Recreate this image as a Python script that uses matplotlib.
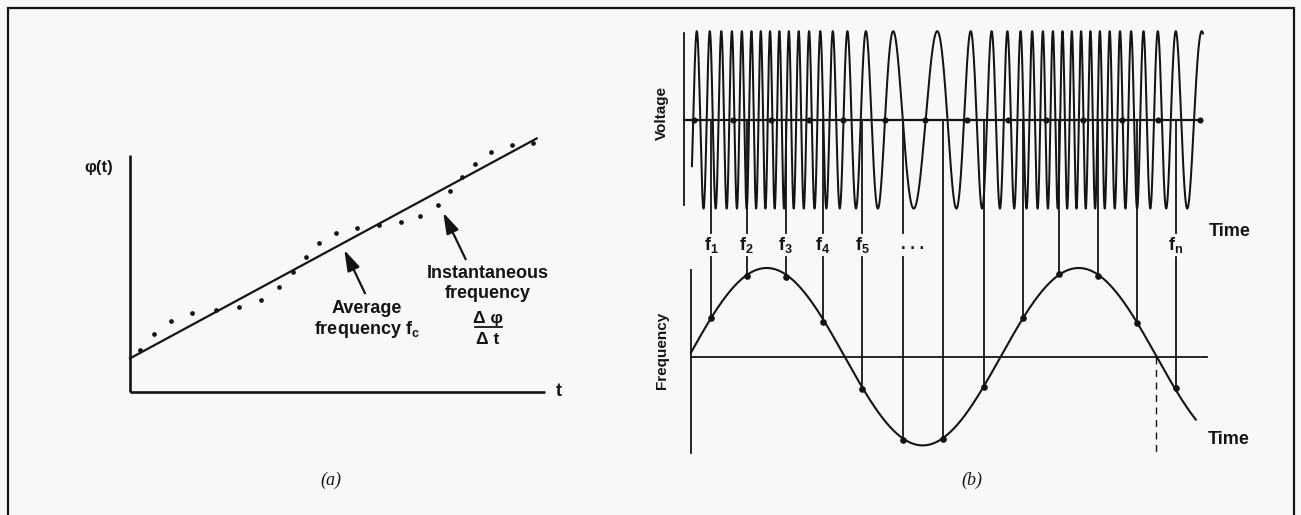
import numpy as np
import matplotlib
matplotlib.use("Agg")
import matplotlib.pyplot as plt
from matplotlib.patches import Rectangle

plt.rcParams['font.family'] = ['Liberation Sans', 'DejaVu Sans']
plt.rcParams['mathtext.fontset'] = 'custom'
plt.rcParams['mathtext.rm'] = 'Liberation Sans:bold'
plt.rcParams['mathtext.it'] = 'Liberation Sans:bold'
plt.rcParams['mathtext.bf'] = 'Liberation Sans:bold'

INK = '#141414'
BG = '#f8f8f7'

# ---------------- Panel (a): phase phi(t) versus time ----------------
phase_t = [0.24, 0.58, 0.99, 1.50, 2.07, 2.63, 3.15, 3.59, 3.92, 4.24, 4.56, 4.96,
           5.48, 6.01, 6.53, 6.99, 7.41, 7.71, 7.99, 8.31, 8.69, 9.21, 9.72]
phase_phi = [1.01, 1.40, 1.72, 1.91, 1.98, 2.06, 2.21, 2.52, 2.89, 3.26, 3.58, 3.82,
             3.96, 4.02, 4.10, 4.23, 4.50, 4.84, 5.17, 5.50, 5.78, 5.94, 6.01]
avg_t = [0.0, 9.80]
avg_phi = [0.81, 6.11]
axis_t_max = 10.0
axis_phi_max = 5.71

# ---------------- Panel (b): FM voltage and instantaneous frequency ----------------
carrier_freq = 20.1      # carrier cycles per modulation period
freq_deviation = 13.6    # peak deviation, cycles per modulation period
mod_offset = -0.0074     # start of modulation sine (periods)
crossing_anchor = 0.6218 # an upward zero crossing of the voltage
volt_level = 2.67        # voltage trace baseline (drawing units)
volt_start, volt_end = 0.003, 1.641
freq_end = 1.618
sample_t = [0.064, 0.1785, 0.303, 0.4224, 0.5487, 0.6779, 0.8067, 0.9391,
            1.0641, 1.1801, 1.3048, 1.4282, 1.5529]
sample_f = [0.433, 0.913, 0.902, 0.395, -0.368, -0.939, -0.931, -0.338,
            0.440, 0.929, 0.913, 0.377, -0.356]
sample_labels = [r'f$_\mathrm{1}$', r'f$_\mathrm{2}$', r'f$_\mathrm{3}$', r'f$_\mathrm{4}$',
                 r'f$_\mathrm{5}$', '. . .', '', '', '', '', '', '', r'f$_\mathrm{n}$']
volt_dot_t = [0.0096, 0.1346, 0.2564, 0.3782, 0.4872, 0.6218, 0.75, 0.8846,
              1.016, 1.1378, 1.2564, 1.3814, 1.4968, 1.6314]
reset_t = 1.4904

W, H = 1301, 515
fig = plt.figure(figsize=(W / 100, H / 100), dpi=100)
fig.patch.set_facecolor(BG)

# outer frame (open at the bottom, as in the scanned page)
fig.patches.append(Rectangle((8 / W, -0.05), (1294 - 8) / W, (H - 8) / H + 0.05,
                             transform=fig.transFigure, fill=False, lw=1.6,
                             edgecolor=INK))

# ---- panel (a) axes: t units 41.5 px, phi units 41.5 px ----
axa = fig.add_axes([0, 0, 1, 1])
axa.set_xlim((0 - 130) / 41.5, (W - 130) / 41.5)
axa.set_ylim((392 - H) / 41.5, 392 / 41.5)
axa.axis('off')
axa.patch.set_alpha(0)

axa.plot([0, 0], [0, axis_phi_max], color=INK, lw=1.9, solid_capstyle='butt')
axa.plot([0, axis_t_max], [0, 0], color=INK, lw=1.9, solid_capstyle='butt')
axa.plot(avg_t, avg_phi, color=INK, lw=1.6)
axa.plot(phase_t, phase_phi, 'o', color=INK, ms=3.4, mec='none')

bold = dict(fontweight='bold', color=INK)
axa.text(-0.75, 5.40, 'φ(t)', fontsize=12, ha='center', va='center', **bold)
axa.text(10.34, 0.0, 't', fontsize=13, ha='center', va='center', **bold)
axa.text(5.70, 2.02, 'Average', fontsize=13, ha='center', va='center', **bold)
axa.text(5.70, 1.51, r'frequency f$_\mathrm{c}$', fontsize=13, ha='center',
         va='center', **bold)
axa.text(8.63, 2.86, 'Instantaneous', fontsize=13, ha='center', va='center', **bold)
axa.text(8.63, 2.38, 'frequency', fontsize=13, ha='center', va='center', **bold)
axa.text(8.63, 1.76, 'Δ φ', fontsize=12.5, ha='center', va='center', **bold)
axa.plot([8.31, 8.96], [1.573, 1.573], color=INK, lw=1.3)
axa.text(8.63, 1.26, 'Δ t', fontsize=12.5, ha='center', va='center', **bold)
arrow = dict(arrowstyle='-|>,head_length=0.9,head_width=0.28', color=INK, lw=1.6,
             shrinkA=0, shrinkB=0, mutation_scale=14)
axa.annotate('', xy=(5.164, 3.422), xytext=(5.663, 2.378), arrowprops=arrow)
axa.annotate('', xy=(7.549, 4.320), xytext=(8.089, 3.198), arrowprops=arrow)
axa.text(4.84, -2.12, '(a)', fontsize=13, ha='center', va='center',
         family=['Liberation Serif', 'DejaVu Serif'], style='italic', color=INK)

# ---- panel (b) axes: time in modulation periods (312 px), frequency units 88.7 px ----
axb = fig.add_axes([0, 0, 1, 1])
axb.set_xlim((0 - 691) / 312, (W - 691) / 312)
axb.set_ylim((356.7 - H) / 88.7, 356.7 / 88.7)
axb.axis('off')
axb.patch.set_alpha(0)

lw_b = 1.3
# voltage trace: phase is the integral of the instantaneous frequency
tv = np.linspace(volt_start, volt_end, 8000)
def fm_phase(t):
    return carrier_freq * t - freq_deviation / (2 * np.pi) * np.cos(2 * np.pi * (t - mod_offset))
ph = fm_phase(tv) - fm_phase(crossing_anchor)
axb.plot(tv, volt_level + np.sin(2 * np.pi * ph), color=INK, lw=1.45)
axb.plot([-0.0224, -0.0224], [1.71, 3.649], color=INK, lw=lw_b)
axb.plot([-0.0224, volt_dot_t[-1]], [volt_level, volt_level], color=INK, lw=1.6)
axb.plot(volt_dot_t, [volt_level] * len(volt_dot_t), 'o', color=INK, ms=4.4, mec='none')

# frequency trace
tf = np.linspace(0, freq_end, 2000)
axb.plot(tf, np.sin(2 * np.pi * (tf - mod_offset)), color=INK, lw=1.5)
axb.plot([0, 0], [-1.086, 0.977], color=INK, lw=lw_b)
axb.plot([0, 1.653], [0, 0], color=INK, lw=lw_b)
axb.plot([reset_t, reset_t], [0, -1.086], color=INK, lw=1.0, dashes=(5, 4))

# connecting lines and samples
gap_top, gap_bot = 1.395, 1.128
for t, f, lab in zip(sample_t, sample_f, sample_labels):
    if lab:
        axb.plot([t, t], [volt_level, gap_top], color=INK, lw=lw_b)
        axb.plot([t, t], [gap_bot, f], color=INK, lw=lw_b)
        if lab.startswith('.'):
            axb.text(t + 0.033, 1.265, lab, fontsize=12, ha='center', va='center', **bold)
        else:
            axb.text(t, 1.259, lab, fontsize=13, ha='center', va='center', **bold)
    else:
        axb.plot([t, t], [volt_level, f], color=INK, lw=lw_b)
axb.plot(sample_t, sample_f, 'o', color=INK, ms=4.8, mec='none')

axb.text(1.659, 1.409, 'Time', fontsize=13, ha='left', va='center', **bold)
axb.text(1.656, -0.939, 'Time', fontsize=13, ha='left', va='center', **bold)
axb.text(-0.094, 2.747, 'Voltage', fontsize=11, rotation=90, ha='center',
         va='center', **bold)
axb.text(-0.094, 0.07, 'Frequency', fontsize=11, rotation=90, ha='center',
         va='center', **bold)
axb.text(0.90, -1.392, '(b)', fontsize=13, ha='center', va='center',
         family=['Liberation Serif', 'DejaVu Serif'], style='italic', color=INK)

fig.savefig('out.png', dpi=100, facecolor=BG)
